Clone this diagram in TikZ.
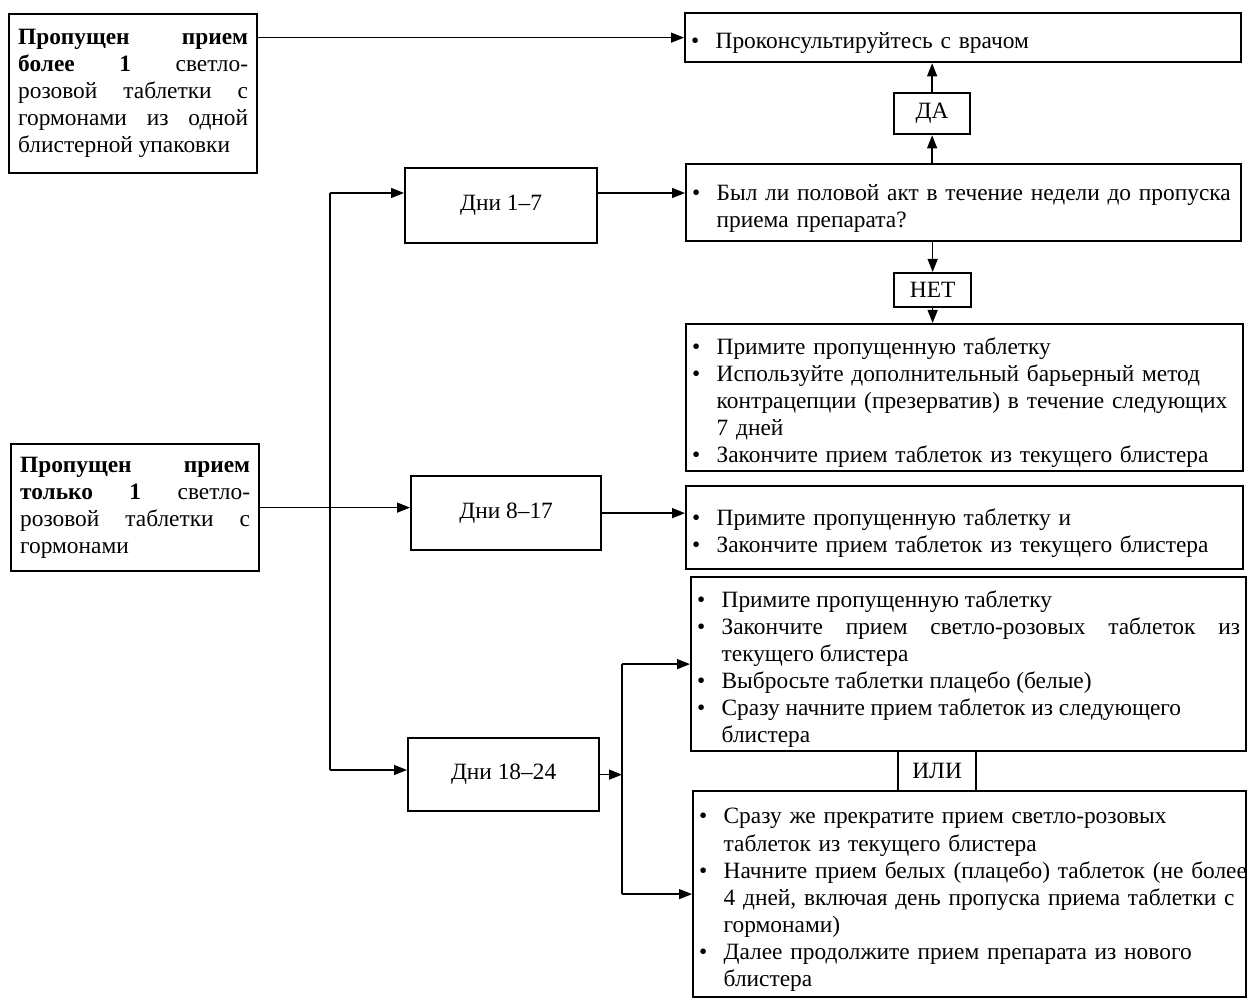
\documentclass[tikz,border=0pt]{standalone}
\usepackage{fontspec}
\setmainfont{Liberation Serif}
\usetikzlibrary{arrows.meta}

\newcommand{\bul}{\par\noindent\hangindent=1.05em\hangafter=1\makebox[1.05em][l]{\textbullet}}

\begin{document}
\begin{tikzpicture}[x=0.02cm, y=-0.02cm,
    every node/.style={font=\fontsize{13.3}{15.4}\selectfont},
    box/.style={draw, line width=1.3pt, anchor=north west, inner xsep=0.12cm, inner ysep=0pt},
    side/.style={box, inner xsep=0.18cm, text width=4.60cm, align=justify},
    tag/.style={box, align=center},
    link/.style={line width=0.8pt, -{Triangle[length=2.6mm,width=2mm]}},
  ]
  \useasboundingbox (0,0) rectangle (1258,999);

  % left column
  \node[side, minimum width=4.96cm, minimum height=3.18cm] (a) at (8,13)
    {\textbf{Пропущен прием\linebreak более 1} светло-\linebreak розовой таблетки с\linebreak гормонами из одной\linebreak блистерной упаковки\par};
  \node[side, minimum width=4.96cm, minimum height=2.54cm] (b) at (10,443)
    {\textbf{Пропущен прием\linebreak только 1} светло-\linebreak розовой таблетки с\linebreak гормонами\par};

  % days
  \node[tag, minimum width=3.84cm, minimum height=1.50cm] (d1)  at (404,167) {Дни 1--7};
  \node[tag, minimum width=3.80cm, minimum height=1.48cm] (d8)  at (410,475) {Дни 8--17};
  \node[tag, minimum width=3.82cm, minimum height=1.46cm] (d18) at (407,737) {Дни 18--24};

  % right column
  \node[box, minimum width=11.12cm, minimum height=0.98cm, text width=10.88cm] (cons) at (684,12)
    {\bul Проконсультируйтесь с врачом\par};
  \node[tag, minimum width=1.52cm, minimum height=0.82cm] (da) at (893,92) {ДА};
  \node[box, minimum width=11.10cm, minimum height=1.54cm, text width=10.86cm] (q) at (685,163)
    {\bul Был ли половой акт в течение недели до пропуска\newline приема препарата?\par};
  \node[tag, minimum width=1.54cm, minimum height=0.68cm] (net) at (893,272) {НЕТ};
  \node[box, minimum width=11.14cm, minimum height=2.94cm, text width=10.90cm] (nb) at (685,323)
    {\bul Примите пропущенную таблетку
     \bul Используйте дополнительный барьерный метод\newline контрацепции (презерватив) в течение следующих\newline 7 дней
     \bul Закончите прием таблеток из текущего блистера\par};
  \node[box, minimum width=11.14cm, minimum height=1.66cm, text width=10.90cm] (r8) at (685,485)
    {\bul Примите пропущенную таблетку и
     \bul Закончите прием таблеток из текущего блистера\par};
  \node[box, minimum width=11.10cm, minimum height=3.48cm, text width=10.86cm, align=justify] (r18a) at (690,576)
    {\bul Примите пропущенную таблетку
     \bul Закончите прием светло-розовых таблеток из\linebreak текущего блистера
     \bul Выбросьте таблетки плацебо (белые)
     \bul Сразу начните прием таблеток из следующего\newline блистера\par};
  \node[tag, minimum width=1.56cm, minimum height=0.80cm] (ili) at (897,750) {ИЛИ};
  \node[box, minimum width=11.06cm, minimum height=4.12cm, text width=10.82cm] (r18b) at (692,790)
    {\bul Сразу же прекратите прием светло-розовых\newline таблеток из текущего блистера
     \bul \mbox{Начните прием белых (плацебо) таблеток (не более}\newline 4 дней, включая день пропуска приема таблетки с\newline гормонами)
     \bul Далее продолжите прием препарата из нового\newline блистера\par};

  % connectors
  \coordinate (j1)  at (330,193);
  \coordinate (j18) at (330,770);
  \coordinate (s18) at (622,700);
  \draw[link] (a.east |- cons.west) -- (cons.west);
  \draw[line width=0.8pt] (j1) -- (j18);
  \draw[link] (j1) -- (j1 -| d1.west);
  \draw[link] (j18) -- (j18 -| d18.west);
  \draw[link] (b.east) -- (b.east -| d8.west);
  \draw[link] (d1.east |- j1) -- (j1 -| q.west);
  \draw[link] (q.north -| da.south) -- (da.south);
  \draw[link] (da.north) -- (da.north |- cons.south);
  \draw[link] (q.south -| net.north) -- (net.north);
  \draw[link] (net.south) -- (net.south |- nb.north);
  \draw[link] (d8.east) -- (d8.east -| r8.west);
  \draw[link] (d18.east) -- (d18.east -| s18);
  \draw[line width=0.8pt] (s18 |- r18a.west) -- (s18 |- r18b.west);
  \draw[link] (s18 |- r18a.west) -- (r18a.west);
  \draw[link] (s18 |- r18b.west) -- (r18b.west);
\end{tikzpicture}
\end{document}
